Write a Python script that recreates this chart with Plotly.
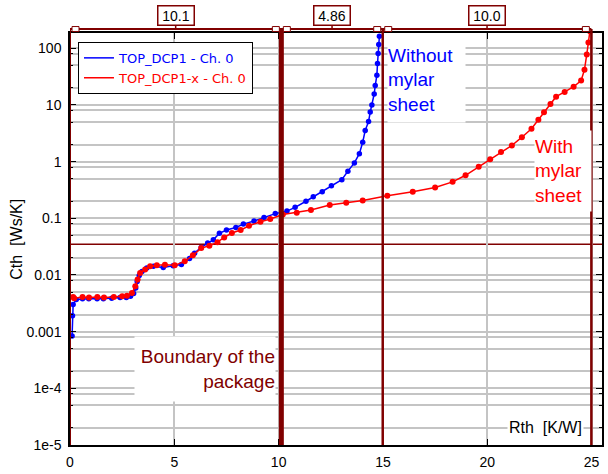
import plotly.graph_objects as go

# ---------------- data ----------------
blue_x = [0.10, 0.12, 0.15, 0.30, 0.60, 0.90, 1.30, 1.60, 2.00, 2.40, 2.70, 2.90, 3.05, 3.15, 3.22,
          3.32, 3.45, 3.68, 4.00, 4.47, 4.94, 5.34, 5.73, 5.97, 6.29, 6.60, 6.87, 7.16, 7.50, 7.95,
          8.31, 8.82, 9.30, 9.84, 10.40, 10.79, 11.31, 11.66, 12.09, 12.53, 13.03, 13.32, 13.63,
          13.87, 14.03, 14.15, 14.31, 14.39, 14.47, 14.58, 14.63, 14.71, 14.74, 14.77, 14.80, 14.83]
blue_y = [0.00084, 0.0019, 0.0030, 0.0037, 0.0038, 0.0038, 0.0038, 0.0038, 0.0039, 0.0040, 0.0040,
          0.0042, 0.0047, 0.0059, 0.0077, 0.0098, 0.0115, 0.0133, 0.0142, 0.0136, 0.0145, 0.0153,
          0.0195, 0.0243, 0.0306, 0.0365, 0.0417, 0.0545, 0.062, 0.069, 0.079, 0.0897, 0.103, 0.121,
          0.134, 0.156, 0.20, 0.24, 0.295, 0.375, 0.48, 0.68, 0.95, 1.38, 2.2, 3.55, 5.1, 7.5, 10.0,
          15.6, 22.0, 33.6, 54.0, 81.0, 117.0, 163.0]

red_x = [0.15, 0.20, 0.60, 0.91, 1.31, 1.63, 2.10, 2.50, 2.73, 2.97, 3.13, 3.24, 3.36, 3.60, 3.84,
         4.16, 4.55, 5.02, 5.50, 5.89, 6.29, 6.68, 7.07, 7.39, 7.76, 8.18, 8.58, 9.13, 9.60, 10.20,
         10.87, 11.55, 12.45, 13.24, 14.03, 15.21, 16.43, 17.50, 18.34, 18.96, 19.59, 20.14, 20.66,
         21.18, 21.66, 22.12, 22.45, 22.72, 23.03, 23.30, 23.71, 24.14, 24.50, 24.66, 24.77, 24.85, 24.92]
red_y = [0.0041, 0.0039, 0.0041, 0.0040, 0.0041, 0.0040, 0.0041, 0.0042, 0.0043, 0.0048, 0.0063,
         0.0083, 0.0108, 0.0125, 0.0142, 0.0148, 0.0151, 0.0148, 0.0174, 0.0222, 0.0298, 0.0327,
         0.038, 0.046, 0.055, 0.062, 0.074, 0.087, 0.097, 0.117, 0.126, 0.14, 0.171, 0.188, 0.207,
         0.25, 0.294, 0.35, 0.44, 0.575, 0.81, 1.1, 1.48, 1.93, 2.7, 3.8, 5.5, 7.45, 10.4, 14.0, 17.0,
         21.0, 27.0, 42.0, 78.0, 126.0, 200.0]

series_names = ["TOP_DCP1 - Ch. 0", "TOP_DCP1-x - Ch. 0"]
cursors = [0.0, 10.13, 14.99, 24.99]
h_cursor = 0.035
x_ticks = [0, 5, 10, 15, 20, 25]
y_ticks = [1e-5, 1e-4, 1e-3, 1e-2, 1e-1, 1, 10, 100]
y_ticktext = ["1e-5", "1e-4", "0.001", "0.01", "0.1", "1", "10", "100"]

# ---------------- layout helpers ----------------
W, H = 608, 474
L, R, T, B = 70, 4, 33, 25
PW, PH = W - L - R, H - T - B
def px(xp):
    return (xp - L) / PW
def py(yp):
    return (H - B - yp) / PH

DARK = "#800000"
GRID = "#c4c4c4"
FONT = "Liberation Sans, Arial, sans-serif"

minor_vals = []
for e in range(-5, 3):
    for m in (2, 5, 8):
        minor_vals.append(m * 10.0 ** e)

fig = go.Figure()
for xs, ys, col, nm, ms in [(blue_x, blue_y, "#0000ff", series_names[0], 5.5),
                            (red_x, red_y, "#ff0000", series_names[1], 6)]:
    fig.add_trace(go.Scatter(x=xs, y=ys, mode="lines", line=dict(color=col, width=1.5),
                             name=f"<span style='color:{col}'>{nm}</span>", showlegend=True))
    fig.add_trace(go.Scatter(x=xs, y=ys, mode="markers", marker=dict(color=col, size=ms),
                             showlegend=False, hoverinfo="skip"))

shapes = []
# horizontal cursor
shapes.append(dict(type="line", xref="paper", x0=0, x1=1, yref="y", y0=h_cursor, y1=h_cursor,
                   line=dict(color=DARK, width=1.5), layer="between"))
# vertical cursors
ybr = py(29)
widths = [2, 5, 2.5, 2.5]
for c, w in zip(cursors, widths):
    shapes.append(dict(type="line", xref="x", x0=c, x1=c, yref="paper", y0=0, y1=ybr,
                       line=dict(color=DARK, width=w), layer="above"))
# bracket line
shapes.append(dict(type="line", xref="x", x0=cursors[0], x1=cursors[-1], yref="paper", y0=ybr, y1=ybr,
                   line=dict(color=DARK, width=2), layer="above"))
annotations = []
for a, b in zip(cursors[:-1], cursors[1:]):
    d = round(b - a, 6)
    lab = f"{d:.1f}" if d >= 10 else f"{d:.2f}"
    mid = (a + b) / 2
    shapes.append(dict(type="line", xref="x", x0=mid, x1=mid, yref="paper", y0=ybr, y1=py(25),
                       line=dict(color=DARK, width=1.5), layer="above"))
    for anchor, x0, x1 in [(a, 2, 9), (b, -9, -2)]:
        shapes.append(dict(type="rect", xref="x", xsizemode="pixel", xanchor=anchor, x0=x0, x1=x1,
                           yref="paper", ysizemode="pixel", yanchor=ybr, y0=-2.5, y1=2.5,
                           line=dict(color=DARK, width=1), fillcolor="white", layer="above"))
    annotations.append(dict(xref="x", x=mid, yref="paper", y=py(15.8), text=lab, showarrow=False,
                            font=dict(family=FONT, size=14, color="black"), bgcolor="white",
                            bordercolor=DARK, borderwidth=1.5, borderpad=1, width=33,
                            xanchor="center", yanchor="middle"))

# text annotations
annotations.append(dict(xref="paper", yref="paper", x=px(427.5), y=py(80), showarrow=False,
                        xanchor="center", yanchor="middle",
                        text="Without<br>mylar<br>sheet", align="left", valign="middle",
                        width=77, height=84, bgcolor="white", borderpad=0,
                        font=dict(family=FONT, size=19, color="#0000ff")))
annotations.append(dict(xref="paper", yref="paper", x=px(565), y=py(172), showarrow=False,
                        xanchor="center", yanchor="middle",
                        text="With<br>mylar<br>sheet", align="left", valign="middle",
                        width=56, height=80, bgcolor="white", borderpad=0,
                        font=dict(family=FONT, size=19, color="#ff0000")))
annotations.append(dict(xref="paper", yref="paper", x=px(206), y=py(372.5), showarrow=False,
                        xanchor="center", yanchor="middle",
                        text="Boundary of the<br>package", align="right", valign="middle",
                        width=140, height=64, bgcolor="white", borderpad=0,
                        font=dict(family=FONT, size=19, color=DARK)))
annotations.append(dict(xref="paper", yref="paper", x=px(547), y=py(431.5), showarrow=False,
                        xanchor="center", yanchor="middle",
                        text="Rth\u00a0\u00a0[K/W]", bgcolor="white", borderpad=1,
                        font=dict(family=FONT, size=16, color="black")))
annotations.append(dict(xref="paper", yref="paper", x=px(15.5), y=py(241), showarrow=False,
                        xanchor="center", yanchor="middle",
                        text="Cth\u00a0\u00a0[Ws/K]", textangle=-90,
                        font=dict(family=FONT, size=16, color="black")))

fig.update_layout(
    width=W, height=H, margin=dict(l=L, r=R, t=T, b=B, pad=0),
    paper_bgcolor="white", plot_bgcolor="white",
    font=dict(family=FONT, size=14, color="black"),
    shapes=shapes, annotations=annotations,
    legend=dict(x=px(78), y=py(42), xanchor="left", yanchor="top", bgcolor="white",
                bordercolor="black", borderwidth=1, itemwidth=30,
                font=dict(family="DejaVu Sans, sans-serif", size=13),
                tracegroupgap=0),
    xaxis=dict(range=[0, 25.5], tickvals=x_ticks, ticks="inside", ticklen=6, tickcolor="black",
               showline=True, linecolor="black", linewidth=1.5, mirror="allticks",
               showgrid=True, gridcolor=GRID, gridwidth=1.5, zeroline=False,
               ticklabelstandoff=3, tickfont=dict(size=14)),
    yaxis=dict(type="log", range=[-5, 2.27], tickvals=y_ticks, ticktext=y_ticktext,
               ticks="inside", ticklen=6, tickcolor="black",
               showline=True, linecolor="black", linewidth=1.5, mirror="allticks",
               showgrid=True, gridcolor=GRID, gridwidth=1.5, zeroline=False,
               minor=dict(tickvals=minor_vals, showgrid=True, gridcolor=GRID, gridwidth=1.5,
                          ticks="inside", ticklen=3, tickcolor="black"),
               ticklabelstandoff=4, tickfont=dict(size=14)),
)

fig.write_html("out.html")
